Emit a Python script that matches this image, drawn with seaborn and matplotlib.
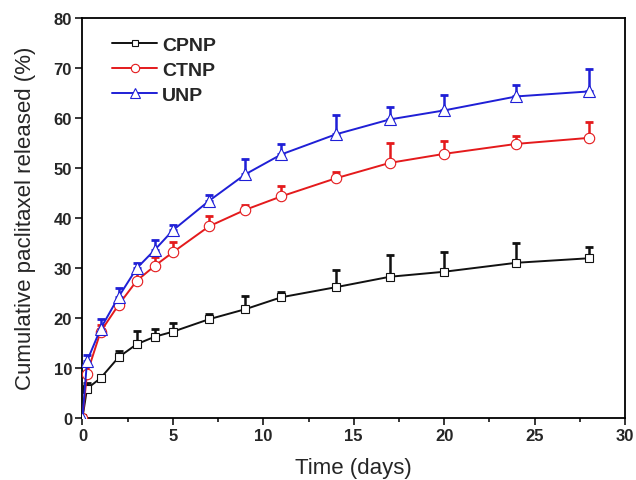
import numpy as np
import pandas as pd
import matplotlib
matplotlib.use("Agg")
import matplotlib.pyplot as plt
from matplotlib.lines import Line2D
import seaborn as sns

time = [0, 0.25, 1, 2, 3, 4, 5, 7, 9, 11, 14, 17, 20, 24, 28]
cpnp = [0, 5.8, 7.9, 12.1, 14.7, 16.2, 17.2, 19.7, 21.7, 24.1, 26.1, 28.2, 29.2, 31.0, 31.9]
cpnp_err = [0, 1.2, 0.5, 1.2, 2.7, 1.6, 1.8, 1.0, 2.7, 1.1, 3.5, 4.3, 4.0, 3.9, 2.3]
ctnp = [0, 8.8, 17.2, 22.6, 27.4, 30.4, 33.1, 38.3, 41.6, 44.3, 47.9, 51.0, 52.8, 54.8, 56.0]
ctnp_err = [0, 1.6, 1.3, 0.9, 1.8, 1.8, 2.0, 2.0, 1.0, 2.0, 1.2, 4.0, 2.6, 1.6, 3.1]
unp = [0, 11.3, 17.8, 24.2, 29.9, 33.6, 37.5, 43.4, 48.7, 52.7, 56.7, 59.7, 61.5, 64.3, 65.3]
unp_err = [0, 1.3, 2.0, 1.7, 1.0, 2.0, 1.0, 1.2, 3.0, 2.0, 3.9, 2.5, 3.1, 2.3, 4.4]

series = ["CPNP", "CTNP", "UNP"]
values = {"CPNP": cpnp, "CTNP": ctnp, "UNP": unp}
errors = {"CPNP": cpnp_err, "CTNP": ctnp_err, "UNP": unp_err}
colors = {"CPNP": "#111111", "CTNP": "#e41a1c", "UNP": "#1f1fd6"}
markers = {"CPNP": "s", "CTNP": "o", "UNP": "^"}
msizes = {"CPNP": 6.0, "CTNP": 7.5, "UNP": 8.5}

sns.set_style("white")
plt.rcParams["font.family"] = ["Liberation Sans", "DejaVu Sans"]

fig = plt.figure(figsize=(6.36, 4.81), dpi=100)
ax = fig.add_axes([0.1297, 0.1297, 0.8530, 0.8308])

for name in series:
    y = np.array(values[name])
    e = np.array(errors[name])
    ax.errorbar(time, y, yerr=[np.zeros(len(y)), e],
                fmt="none", ecolor=colors[name], elinewidth=1.8,
                capsize=3.2, capthick=2.0, zorder=2)
    sns.lineplot(x=time, y=y, color=colors[name], marker=markers[name],
                 markersize=msizes[name], markerfacecolor="white",
                 markeredgecolor=colors[name], markeredgewidth=0.8,
                 linewidth=1.4, ax=ax, zorder=3)

ax.set_xlim(0, 30)
ax.set_ylim(0, 80)
ax.set_xticks(range(0, 31, 5))
ax.set_xticks(np.arange(2.5, 30, 5), minor=True)
ax.set_yticks(range(0, 81, 10))
ax.tick_params(axis="both", which="major", direction="out", length=5, width=1.3,
               labelsize=12, pad=2.5, bottom=True, left=True)
ax.tick_params(axis="x", which="minor", direction="out", length=3, width=1.3,
               bottom=True)
for lab in ax.get_xticklabels() + ax.get_yticklabels():
    lab.set_fontweight("bold")

for sp in ax.spines.values():
    sp.set_visible(True)
    sp.set_color("black")
    sp.set_linewidth(1.3)

ax.set_xlabel("Time (days)", fontsize=16, labelpad=10)
ax.set_ylabel("Cumulative paclitaxel released (%)", fontsize=16, labelpad=13)

handles = [Line2D([], [], color=colors[n], marker=markers[n],
                  markersize=msizes[n] * 0.8, markerfacecolor="white",
                  markeredgecolor=colors[n], markeredgewidth=0.8,
                  linewidth=1.4) for n in series]
leg = ax.legend(handles, series, loc="upper left", bbox_to_anchor=(0.03, 0.988),
                frameon=False, prop={"weight": "bold", "size": 14},
                handlelength=2.3, labelspacing=0.38, handletextpad=0.25,
                borderaxespad=0.3)

fig.savefig("out.png", dpi=100)
